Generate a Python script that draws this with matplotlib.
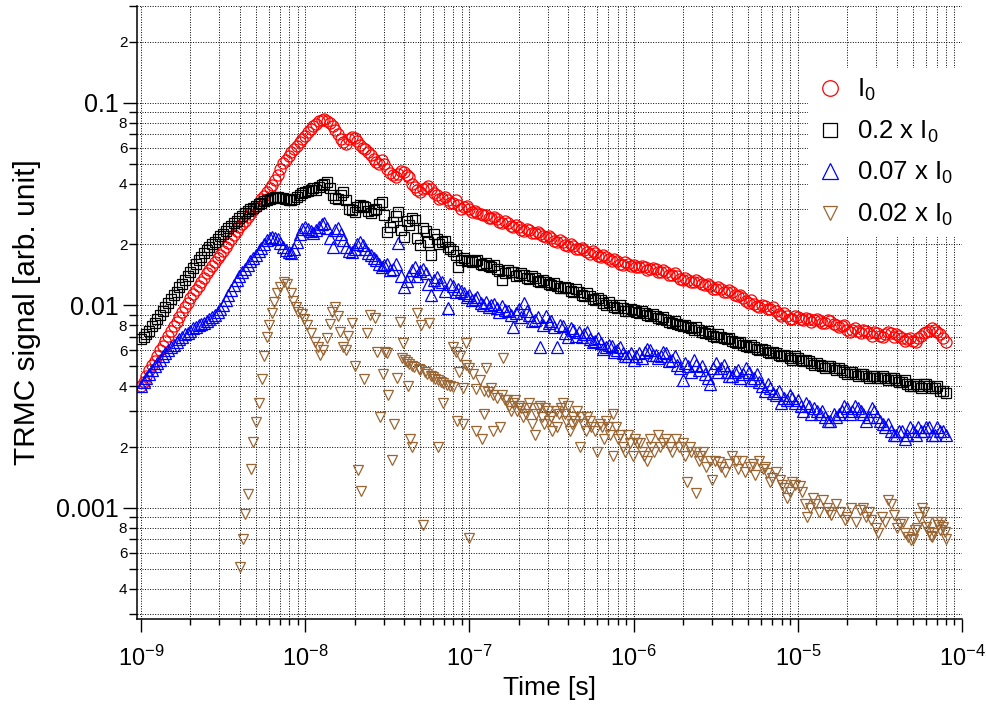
"""
TRMC transients at four excitation intensities (log-log, Igor-like look).
"""

import matplotlib
matplotlib.use("Agg")
import matplotlib.pyplot as plt
from matplotlib.ticker import FixedLocator, FuncFormatter, LogFormatterSciNotation, NullFormatter

# ============================ DATA ============================
# time base for I0, 0.2 I0 and 0.07 I0 traces, s
time_s = [
    1.00e-9, 1.08e-9, 1.17e-9, 1.26e-9, 1.36e-9, 1.47e-9, 1.58e-9, 1.71e-9, 1.85e-9, 2.00e-9,
    2.15e-9, 2.32e-9, 2.51e-9, 2.71e-9, 2.93e-9, 3.16e-9, 3.41e-9, 3.69e-9, 3.98e-9, 4.30e-9,
    4.64e-9, 5.01e-9, 5.41e-9, 5.84e-9, 6.31e-9, 6.81e-9, 7.36e-9, 7.94e-9, 8.58e-9, 9.26e-9,
    1.00e-8, 1.08e-8, 1.17e-8, 1.26e-8, 1.36e-8, 1.47e-8, 1.58e-8, 1.71e-8, 1.85e-8, 2.00e-8,
    2.15e-8, 2.32e-8, 2.51e-8, 2.71e-8, 2.93e-8, 3.16e-8, 3.41e-8, 3.69e-8, 3.98e-8, 4.30e-8,
    4.64e-8, 5.01e-8, 5.41e-8, 5.84e-8, 6.31e-8, 6.81e-8, 7.36e-8, 7.94e-8, 8.58e-8, 9.26e-8,
    1.00e-7, 1.08e-7, 1.17e-7, 1.26e-7, 1.36e-7, 1.47e-7, 1.58e-7, 1.71e-7, 1.85e-7, 2.00e-7,
    2.15e-7, 2.32e-7, 2.51e-7, 2.71e-7, 2.93e-7, 3.16e-7, 3.41e-7, 3.69e-7, 3.98e-7, 4.30e-7,
    4.64e-7, 5.01e-7, 5.41e-7, 5.84e-7, 6.31e-7, 6.81e-7, 7.36e-7, 7.94e-7, 8.58e-7, 9.26e-7,
    1.00e-6, 1.08e-6, 1.17e-6, 1.26e-6, 1.36e-6, 1.47e-6, 1.58e-6, 1.71e-6, 1.85e-6, 2.00e-6,
    2.15e-6, 2.32e-6, 2.51e-6, 2.71e-6, 2.93e-6, 3.16e-6, 3.41e-6, 3.69e-6, 3.98e-6, 4.30e-6,
    4.64e-6, 5.01e-6, 5.41e-6, 5.84e-6, 6.31e-6, 6.81e-6, 7.36e-6, 7.94e-6, 8.58e-6, 9.26e-6,
    1.00e-5, 1.08e-5, 1.17e-5, 1.26e-5, 1.36e-5, 1.47e-5, 1.58e-5, 1.71e-5, 1.85e-5, 2.00e-5,
    2.15e-5, 2.32e-5, 2.51e-5, 2.71e-5, 2.93e-5, 3.16e-5, 3.41e-5, 3.69e-5, 3.98e-5, 4.30e-5,
    4.64e-5, 5.01e-5, 5.41e-5, 5.84e-5, 6.31e-5, 6.81e-5, 7.36e-5, 7.94e-5,
]

# interleaved samples between the ones above
time_mid = [
    1.04e-9, 1.12e-9, 1.21e-9, 1.31e-9, 1.41e-9, 1.52e-9, 1.65e-9, 1.78e-9, 1.92e-9, 2.07e-9,
    2.24e-9, 2.41e-9, 2.61e-9, 2.82e-9, 3.04e-9, 3.28e-9, 3.55e-9, 3.83e-9, 4.14e-9, 4.47e-9,
    4.82e-9, 5.21e-9, 5.62e-9, 6.07e-9, 6.55e-9, 7.07e-9, 7.64e-9, 8.25e-9, 8.91e-9, 9.62e-9,
    1.04e-8, 1.12e-8, 1.21e-8, 1.31e-8, 1.41e-8, 1.52e-8, 1.65e-8, 1.78e-8, 1.92e-8, 2.07e-8,
    2.24e-8, 2.41e-8, 2.61e-8, 2.82e-8, 3.04e-8, 3.28e-8, 3.55e-8, 3.83e-8, 4.14e-8, 4.47e-8,
    4.82e-8, 5.21e-8, 5.62e-8, 6.07e-8, 6.55e-8, 7.07e-8, 7.64e-8, 8.25e-8, 8.91e-8, 9.62e-8,
    1.04e-7, 1.12e-7, 1.21e-7, 1.31e-7, 1.41e-7, 1.52e-7, 1.65e-7, 1.78e-7, 1.92e-7, 2.07e-7,
    2.24e-7, 2.41e-7, 2.61e-7, 2.82e-7, 3.04e-7, 3.28e-7, 3.55e-7, 3.83e-7, 4.14e-7, 4.47e-7,
    4.82e-7, 5.21e-7, 5.62e-7, 6.07e-7, 6.55e-7, 7.07e-7, 7.64e-7, 8.25e-7, 8.91e-7, 9.62e-7,
    1.04e-6, 1.12e-6, 1.21e-6, 1.31e-6, 1.41e-6, 1.52e-6, 1.65e-6, 1.78e-6, 1.92e-6, 2.07e-6,
    2.24e-6, 2.41e-6, 2.61e-6, 2.82e-6, 3.04e-6, 3.28e-6, 3.55e-6, 3.83e-6, 4.14e-6, 4.47e-6,
    4.82e-6, 5.21e-6, 5.62e-6, 6.07e-6, 6.55e-6, 7.07e-6, 7.64e-6, 8.25e-6, 8.91e-6, 9.62e-6,
    1.04e-5, 1.12e-5, 1.21e-5, 1.31e-5, 1.41e-5, 1.52e-5, 1.65e-5, 1.78e-5, 1.92e-5, 2.07e-5,
    2.24e-5, 2.41e-5, 2.61e-5, 2.82e-5, 3.04e-5, 3.28e-5, 3.55e-5, 3.83e-5, 4.14e-5, 4.47e-5,
    4.82e-5, 5.21e-5, 5.62e-5, 6.07e-5, 6.55e-5, 7.07e-5, 7.64e-5,
]

sig_i0 = [
    0.0040, 0.0045, 0.0051, 0.0056, 0.0063, 0.0071, 0.0079, 0.0088, 0.0098, 0.0109,
    0.0119, 0.0131, 0.0144, 0.0157, 0.0171, 0.0186, 0.0203, 0.0222, 0.0243, 0.0262,
    0.0284, 0.0308, 0.0334, 0.0362, 0.0395, 0.0440, 0.0505, 0.0548, 0.0590, 0.0640,
    0.0690, 0.0740, 0.0790, 0.0824, 0.0810, 0.0770, 0.0700, 0.0640, 0.0665, 0.0670,
    0.0620, 0.0590, 0.0555, 0.0510, 0.0525, 0.0470, 0.0440, 0.0445, 0.0455, 0.0430,
    0.0385, 0.0365, 0.0380, 0.0375, 0.0350, 0.0340, 0.0330, 0.0322, 0.0312, 0.0305,
    0.0298, 0.0294, 0.0283, 0.0280, 0.0270, 0.0266, 0.0256, 0.0254, 0.0245, 0.0243,
    0.0234, 0.0235, 0.0227, 0.0226, 0.0217, 0.0215, 0.0205, 0.0205, 0.0197, 0.0197,
    0.0189, 0.0188, 0.0180, 0.0181, 0.0174, 0.0174, 0.0166, 0.0166, 0.0159, 0.0160,
    0.0158, 0.0155, 0.0155, 0.0151, 0.0151, 0.0147, 0.0146, 0.0141, 0.0139, 0.0134,
    0.0134, 0.0130, 0.0130, 0.0126, 0.0125, 0.0120, 0.0120, 0.0117, 0.0116, 0.0111,
    0.0109, 0.0103, 0.0102, 0.0098, 0.0099, 0.0096, 0.0094, 0.0089, 0.0089, 0.0086,
    0.0088, 0.0085, 0.0086, 0.0085, 0.0084, 0.0082, 0.0084, 0.0080, 0.0079, 0.0076,
    0.0076, 0.0075, 0.0076, 0.0073, 0.0074, 0.0071, 0.0072, 0.0073, 0.0072, 0.0069,
    0.0068, 0.0067, 0.0069, 0.0073, 0.0075, 0.0076, 0.0072, 0.0066,
]
sig_i0_mid = [
    0.0042, 0.0048, 0.0053, 0.0060, 0.0067, 0.0075, 0.0083, 0.0093, 0.0103, 0.0114,
    0.0125, 0.0137, 0.0150, 0.0164, 0.0178, 0.0194, 0.0212, 0.0232, 0.0252, 0.0273,
    0.0296, 0.0321, 0.0348, 0.0378, 0.0418, 0.0470, 0.0525, 0.0570, 0.0615, 0.0665,
    0.0715, 0.0765, 0.0810, 0.0830, 0.0795, 0.0735, 0.0665, 0.0630, 0.0680, 0.0645,
    0.0600, 0.0570, 0.0530, 0.0500, 0.0500, 0.0450, 0.0430, 0.0460, 0.0440, 0.0400,
    0.0370, 0.0375, 0.0390, 0.0360, 0.0335, 0.0345, 0.0320, 0.0330, 0.0300, 0.0310,
    0.0290, 0.0285, 0.0281, 0.0271, 0.0272, 0.0258, 0.0260, 0.0247, 0.0249, 0.0236,
    0.0238, 0.0228, 0.0230, 0.0219, 0.0221, 0.0209, 0.0210, 0.0199, 0.0202, 0.0191,
    0.0193, 0.0183, 0.0185, 0.0176, 0.0178, 0.0169, 0.0170, 0.0161, 0.0163, 0.0157,
    0.0154, 0.0157, 0.0150, 0.0153, 0.0146, 0.0149, 0.0142, 0.0144, 0.0135, 0.0137,
    0.0131, 0.0133, 0.0127, 0.0128, 0.0121, 0.0123, 0.0116, 0.0119, 0.0112, 0.0113,
    0.0105, 0.0106, 0.0099, 0.0101, 0.0096, 0.0098, 0.0091, 0.0092, 0.0086, 0.0089,
    0.0086, 0.0087, 0.0083, 0.0086, 0.0082, 0.0085, 0.0081, 0.0078, 0.0080, 0.0074,
    0.0077, 0.0073, 0.0075, 0.0071, 0.0073, 0.0070, 0.0074, 0.0070, 0.0071, 0.0067,
    0.0069, 0.0066, 0.0071, 0.0074, 0.0077, 0.0074, 0.0069,
]

sig_02 = [
    0.0068, 0.0072, 0.0079, 0.0086, 0.0094, 0.0103, 0.0112, 0.0123, 0.0134, 0.0146,
    0.0160, 0.0174, 0.0188, 0.0200, 0.0213, 0.0225, 0.0240, 0.0255, 0.0270, 0.0285,
    0.0298, 0.0310, 0.0322, 0.0333, 0.0341, 0.0343, 0.0338, 0.0333, 0.0334, 0.0350,
    0.0365, 0.0370, 0.0372, 0.0395, 0.0405, 0.0350, 0.0335, 0.0365, 0.0300, 0.0288,
    0.0315, 0.0305, 0.0286, 0.0300, 0.0325, 0.0231, 0.0258, 0.0290, 0.0218, 0.0250,
    0.0265, 0.0199, 0.0232, 0.0177, 0.0212, 0.0205, 0.0195, 0.0185, 0.0155, 0.0172,
    0.0168, 0.0165, 0.0160, 0.0162, 0.0155, 0.0152, 0.0134, 0.0150, 0.0146, 0.0141,
    0.0141, 0.0135, 0.0136, 0.0131, 0.0131, 0.0126, 0.0125, 0.0122, 0.0122, 0.0117,
    0.0116, 0.0111, 0.0111, 0.0106, 0.0106, 0.0101, 0.0101, 0.0097, 0.0097, 0.0094,
    0.0095, 0.0092, 0.0092, 0.0089, 0.0089, 0.0086, 0.0085, 0.0082, 0.0081, 0.0079,
    0.0078, 0.0076, 0.0076, 0.0073, 0.0072, 0.0070, 0.0070, 0.0068, 0.0067, 0.0065,
    0.0064, 0.0062, 0.0062, 0.0060, 0.0060, 0.0058, 0.0058, 0.0056, 0.0056, 0.0054,
    0.0055, 0.0053, 0.0053, 0.0051, 0.0051, 0.0049, 0.0050, 0.0048, 0.0048, 0.0046,
    0.0047, 0.0045, 0.0046, 0.0044, 0.0045, 0.0044, 0.0044, 0.0044, 0.0043, 0.0042,
    0.0041, 0.0040, 0.0040, 0.0041, 0.0040, 0.0039, 0.0038, 0.0037,
]
sig_02_mid = [
    0.0070, 0.0075, 0.0082, 0.0090, 0.0098, 0.0107, 0.0117, 0.0128, 0.0140, 0.0153,
    0.0167, 0.0181, 0.0194, 0.0206, 0.0219, 0.0232, 0.0247, 0.0262, 0.0277, 0.0291,
    0.0304, 0.0316, 0.0328, 0.0337, 0.0342, 0.0341, 0.0335, 0.0330, 0.0342, 0.0358,
    0.0368, 0.0378, 0.0385, 0.0400, 0.0380, 0.0340, 0.0350, 0.0330, 0.0295, 0.0305,
    0.0310, 0.0292, 0.0295, 0.0318, 0.0280, 0.0245, 0.0275, 0.0235, 0.0260, 0.0270,
    0.0215, 0.0240, 0.0205, 0.0225, 0.0200, 0.0208, 0.0190, 0.0178, 0.0168, 0.0165,
    0.0163, 0.0167, 0.0158, 0.0157, 0.0159, 0.0148, 0.0145, 0.0147, 0.0140, 0.0144,
    0.0137, 0.0139, 0.0132, 0.0134, 0.0127, 0.0129, 0.0122, 0.0124, 0.0118, 0.0120,
    0.0113, 0.0115, 0.0108, 0.0109, 0.0103, 0.0104, 0.0098, 0.0100, 0.0094, 0.0096,
    0.0093, 0.0094, 0.0090, 0.0091, 0.0087, 0.0088, 0.0083, 0.0084, 0.0080, 0.0080,
    0.0077, 0.0078, 0.0074, 0.0075, 0.0071, 0.0072, 0.0069, 0.0069, 0.0066, 0.0066,
    0.0063, 0.0064, 0.0061, 0.0061, 0.0059, 0.0059, 0.0057, 0.0057, 0.0055, 0.0056,
    0.0054, 0.0054, 0.0052, 0.0052, 0.0050, 0.0050, 0.0049, 0.0049, 0.0047, 0.0047,
    0.0046, 0.0046, 0.0045, 0.0045, 0.0044, 0.0045, 0.0043, 0.0044, 0.0042, 0.0043,
    0.0040, 0.0041, 0.0039, 0.0041, 0.0039, 0.0040, 0.0038,
]

sig_007 = [
    0.0040, 0.0044, 0.0048, 0.0052, 0.0056, 0.0060, 0.0064, 0.0068, 0.0072, 0.0075,
    0.0078, 0.0081, 0.0084, 0.0088, 0.0093, 0.0100, 0.0113, 0.0126, 0.0140, 0.0152,
    0.0165, 0.0178, 0.0193, 0.0210, 0.0218, 0.0212, 0.0195, 0.0183, 0.0190, 0.0225,
    0.0245, 0.0232, 0.0236, 0.0252, 0.0240, 0.0194, 0.0241, 0.0210, 0.0186, 0.0190,
    0.0206, 0.0190, 0.0177, 0.0168, 0.0155, 0.0160, 0.0152, 0.0204, 0.0123, 0.0140,
    0.0155, 0.0148, 0.0145, 0.0112, 0.0138, 0.0131, 0.0097, 0.0125, 0.0120, 0.0115,
    0.0112, 0.0108, 0.0103, 0.0104, 0.0100, 0.0097, 0.0099, 0.0094, 0.0078, 0.0096,
    0.0103, 0.0090, 0.0085, 0.0062, 0.0089, 0.0084, 0.0062, 0.0079, 0.0070, 0.0076,
    0.0074, 0.0072, 0.0068, 0.0067, 0.0065, 0.0062, 0.0063, 0.0060, 0.0058, 0.0056,
    0.0054, 0.0058, 0.0059, 0.0060, 0.0057, 0.0056, 0.0058, 0.0054, 0.0051, 0.0043,
    0.0050, 0.0054, 0.0048, 0.0046, 0.0041, 0.0052, 0.0049, 0.0047, 0.0045, 0.0048,
    0.0046, 0.0047, 0.0044, 0.0042, 0.0038, 0.0039, 0.0036, 0.0033, 0.0034, 0.0035,
    0.0034, 0.0030, 0.0032, 0.0031, 0.0029, 0.0028, 0.0027, 0.0028, 0.0030, 0.0031,
    0.0030, 0.0031, 0.0029, 0.0028, 0.0030, 0.0027, 0.0025, 0.0024, 0.0023, 0.0024,
    0.0023, 0.0024, 0.0025, 0.0024, 0.0025, 0.0023, 0.0024, 0.0023,
]
sig_007_mid = [
    0.0042, 0.0046, 0.0050, 0.0054, 0.0058, 0.0062, 0.0066, 0.0070, 0.0073, 0.0077,
    0.0080, 0.0082, 0.0086, 0.0090, 0.0096, 0.0106, 0.0119, 0.0133, 0.0146, 0.0158,
    0.0171, 0.0185, 0.0201, 0.0215, 0.0216, 0.0204, 0.0188, 0.0182, 0.0205, 0.0238,
    0.0238, 0.0228, 0.0245, 0.0255, 0.0215, 0.0236, 0.0225, 0.0195, 0.0184, 0.0200,
    0.0198, 0.0182, 0.0172, 0.0160, 0.0158, 0.0150, 0.0160, 0.0140, 0.0132, 0.0150,
    0.0140, 0.0152, 0.0128, 0.0133, 0.0127, 0.0118, 0.0128, 0.0116, 0.0118, 0.0110,
    0.0106, 0.0110, 0.0100, 0.0098, 0.0102, 0.0093, 0.0095, 0.0090, 0.0092, 0.0088,
    0.0094, 0.0084, 0.0088, 0.0080, 0.0082, 0.0078, 0.0080, 0.0073, 0.0077, 0.0071,
    0.0070, 0.0074, 0.0066, 0.0069, 0.0061, 0.0064, 0.0059, 0.0062, 0.0056, 0.0058,
    0.0056, 0.0055, 0.0061, 0.0057, 0.0055, 0.0059, 0.0053, 0.0056, 0.0049, 0.0052,
    0.0047, 0.0051, 0.0050, 0.0044, 0.0049, 0.0047, 0.0051, 0.0045, 0.0047, 0.0044,
    0.0049, 0.0043, 0.0046, 0.0040, 0.0041, 0.0037, 0.0038, 0.0035, 0.0036, 0.0033,
    0.0032, 0.0033, 0.0029, 0.0030, 0.0030, 0.0027, 0.0029, 0.0029, 0.0032, 0.0029,
    0.0032, 0.0030, 0.0027, 0.0031, 0.0028, 0.0026, 0.0026, 0.0023, 0.0024, 0.0022,
    0.0025, 0.0023, 0.0024, 0.0025, 0.0023, 0.0025, 0.0024,
]

# 0.02 x I0 trace (own sampling; negative points are not shown on log axis)
time_002 = [
    4.00e-9, 4.18e-9, 4.30e-9, 4.48e-9, 4.67e-9, 4.80e-9, 5.00e-9, 5.20e-9, 5.45e-9, 5.60e-9,
    5.85e-9, 6.00e-9, 6.30e-9, 6.45e-9, 6.70e-9, 7.00e-9, 7.40e-9, 7.80e-9, 8.20e-9, 8.40e-9,
    8.80e-9, 9.00e-9, 9.50e-9, 9.90e-9, 1.03e-8, 1.09e-8, 1.14e-8, 1.19e-8, 1.23e-8, 1.28e-8,
    1.35e-8, 1.41e-8, 1.45e-8, 1.52e-8, 1.58e-8, 1.62e-8, 1.69e-8, 1.77e-8, 1.83e-8, 1.92e-8,
    2.00e-8, 2.10e-8, 2.20e-8, 2.27e-8, 2.37e-8, 2.47e-8, 2.65e-8, 2.73e-8, 2.85e-8, 2.97e-8,
    3.05e-8, 3.14e-8, 3.20e-8, 3.37e-8, 3.46e-8, 3.60e-8, 3.77e-8, 3.86e-8, 3.93e-8, 4.05e-8,
    4.16e-8, 4.20e-8, 4.30e-8, 4.34e-8, 4.45e-8, 4.50e-8, 4.60e-8, 4.78e-8, 4.90e-8, 5.00e-8,
    5.10e-8, 5.20e-8, 5.35e-8, 5.50e-8, 5.70e-8, 5.80e-8, 6.00e-8, 6.20e-8, 6.40e-8, 6.40e-8,
    6.70e-8, 6.90e-8, 6.90e-8, 7.30e-8, 7.60e-8, 7.90e-8, 8.00e-8, 8.30e-8, 8.40e-8, 8.60e-8,
    8.80e-8, 9.10e-8, 9.10e-8, 9.60e-8, 9.60e-8, 1.00e-7, 1.00e-7, 1.05e-7, 1.10e-7, 1.10e-7,
    1.16e-7, 1.19e-7, 1.22e-7, 1.22e-7, 1.27e-7, 1.30e-7, 1.35e-7, 1.40e-7, 1.40e-7, 1.47e-7,
    1.53e-7, 1.60e-7, 1.65e-7, 1.75e-7, 1.84e-7, 1.95e-7, 2.05e-7, 2.20e-7, 2.30e-7, 2.50e-7,
    2.60e-7, 2.75e-7, 2.90e-7, 3.05e-7, 3.20e-7, 3.35e-7, 3.50e-7, 3.70e-7, 3.90e-7, 4.10e-7,
    4.30e-7, 4.50e-7, 4.70e-7, 4.90e-7, 5.20e-7, 5.50e-7, 6.00e-7, 6.20e-7, 6.60e-7, 7.00e-7,
    7.50e-7, 7.50e-7, 8.00e-7, 8.60e-7, 9.20e-7, 9.90e-7, 1.05e-6, 1.12e-6, 1.20e-6, 1.28e-6,
    1.40e-6, 1.50e-6, 1.66e-6, 1.80e-6, 2.00e-6, 2.10e-6, 2.25e-6, 2.40e-6, 2.40e-6, 2.55e-6,
    2.75e-6, 3.00e-6, 3.15e-6, 3.30e-6, 3.60e-6, 4.00e-6, 4.30e-6, 4.60e-6, 5.10e-6, 5.50e-6,
    5.80e-6, 6.10e-6, 6.50e-6, 7.00e-6, 7.80e-6, 8.20e-6, 8.60e-6, 9.20e-6, 1.03e-5, 1.10e-5,
    1.13e-5, 1.24e-5, 1.35e-5, 1.50e-5, 1.60e-5, 1.70e-5, 1.80e-5, 1.95e-5, 2.10e-5, 2.40e-5,
    2.60e-5, 2.80e-5, 3.10e-5, 3.40e-5, 3.70e-5, 4.00e-5, 4.20e-5, 4.50e-5, 4.90e-5, 5.20e-5,
    5.50e-5, 5.70e-5, 6.00e-5, 6.30e-5, 6.60e-5, 7.00e-5, 7.30e-5, 7.70e-5, 8.00e-5,
]
sig_002 = [
    5.1e-4, 7.0e-4, 9.3e-4, 1.17e-3, 1.56e-3, 2.12e-3, 2.66e-3, 3.30e-3, 4.34e-3, 5.63e-3,
    6.98e-3, 8.0e-3, 9.2e-3, 1.04e-2, 1.15e-2, 1.23e-2, 1.31e-2, 1.28e-2, 1.15e-2, 1.05e-2,
    9.8e-3, 9.3e-3, 9.1e-3, 8.6e-3, 8.0e-3, 7.3e-3, 6.6e-3, 6.2e-3, 5.7e-3, 6.0e-3,
    6.9e-3, 8.1e-3, 9.3e-3, 9.8e-3, 8.9e-3, 7.4e-3, 6.2e-3, 6.0e-3, 7.1e-3, 8.2e-3,
    5.0e-3, 1.54e-3, 1.21e-3, 4.34e-3, 7.3e-3, 9.0e-3, 8.7e-3, 5.9e-3, 2.81e-3, 4.6e-3,
    5.9e-3, 5.8e-3, 3.6e-3, 1.73e-3, 2.6e-3, 4.4e-3, 8.3e-3, 5.5e-3, 6.5e-3, 5.35e-3,
    5.25e-3, 4.0e-3, 5.15e-3, 2.2e-3, 5.05e-3, 2.0e-3, 4.95e-3, 9.2e-3, 4.85e-3, 4.8e-3,
    8.0e-3, 8.2e-4, 4.7e-3, 4.6e-3, 8.2e-3, 4.5e-3, 4.45e-3, 4.35e-3, 2.0e-3, 4.3e-3,
    4.2e-3, 3.3e-3, 4.15e-3, 4.05e-3, 4.0e-3, 6.2e-3, 3.95e-3, 5.9e-3, 2.7e-3, 4.7e-3,
    5.6e-3, 2.6e-3, 3.9e-3, 6.5e-3, 5.1e-3, 7.1e-4, 4.9e-3, 4.6e-3, 2.4e-3, 3.85e-3,
    4.3e-3, 2.2e-3, 2.9e-3, 3.8e-3, 4.9e-3, 3.75e-3, 3.9e-3, 2.4e-3, 3.6e-3, 3.5e-3,
    2.5e-3, 5.5e-3, 3.4e-3, 3.2e-3, 3.3e-3, 3.0e-3, 3.1e-3, 2.9e-3, 3.3e-3, 2.3e-3,
    3.1e-3, 2.8e-3, 3.1e-3, 2.7e-3, 2.4e-3, 3.0e-3, 2.9e-3, 3.3e-3, 2.7e-3, 2.4e-3,
    2.8e-3, 3.0e-3, 2.0e-3, 2.6e-3, 2.8e-3, 2.5e-3, 1.9e-3, 2.6e-3, 2.2e-3, 2.5e-3,
    2.9e-3, 1.8e-3, 2.2e-3, 2.0e-3, 2.3e-3, 1.8e-3, 2.1e-3, 1.9e-3, 1.7e-3, 2.0e-3,
    2.3e-3, 2.1e-3, 2.0e-3, 2.2e-3, 2.1e-3, 1.34e-3, 1.9e-3, 1.19e-3, 1.9e-3, 1.8e-3,
    1.6e-3, 1.38e-3, 1.7e-3, 1.68e-3, 1.5e-3, 1.8e-3, 1.55e-3, 1.7e-3, 1.59e-3, 1.45e-3,
    1.7e-3, 1.55e-3, 1.49e-3, 1.4e-3, 1.38e-3, 1.25e-3, 1.12e-3, 1.35e-3, 1.28e-3, 1.05e-3,
    9.0e-4, 1.12e-3, 9.5e-4, 1.0e-3, 9.2e-4, 1.05e-3, 9.5e-4, 8.7e-4, 1.0e-3, 9.8e-4,
    9.0e-4, 8.7e-4, 7.5e-4, 8.5e-4, 1.05e-3, 8.0e-4, 8.3e-4, 7.5e-4, 6.95e-4, 7.8e-4,
    9.0e-4, 1.0e-3, 8.1e-4, 7.6e-4, 7.2e-4, 8.5e-4, 7.8e-4, 8.1e-4, 7.0e-4,
]

# extra 0.02 x I0 samples in the dense tail
time_002_mid = [
    1.58e-7, 1.70e-7, 1.80e-7, 1.90e-7, 2.00e-7, 2.12e-7, 2.25e-7, 2.40e-7, 2.55e-7, 2.70e-7,
    2.85e-7, 3.00e-7, 3.15e-7, 3.40e-7, 3.60e-7, 3.80e-7, 4.00e-7, 4.20e-7, 4.40e-7, 4.80e-7,
    5.10e-7, 5.40e-7, 5.80e-7, 6.40e-7, 6.80e-7, 7.20e-7, 7.80e-7, 8.30e-7, 8.90e-7, 9.50e-7,
    1.02e-6, 1.10e-6, 1.16e-6, 1.25e-6, 1.34e-6, 1.45e-6, 1.58e-6, 1.72e-6, 1.90e-6, 2.05e-6,
    2.20e-6, 2.50e-6, 2.65e-6, 2.90e-6, 3.40e-6, 3.80e-6, 4.20e-6, 4.80e-6, 5.30e-6, 6.30e-6,
    6.80e-6, 7.40e-6, 8.00e-6, 9.00e-6, 9.60e-6, 1.06e-5, 1.18e-5, 1.28e-5, 1.42e-5, 1.55e-5,
    2.00e-5, 2.25e-5, 2.50e-5, 2.70e-5, 3.00e-5, 3.25e-5, 3.55e-5, 3.85e-5, 4.35e-5, 4.70e-5,
    5.00e-5, 5.35e-5, 5.85e-5, 6.15e-5, 6.45e-5, 6.80e-5, 7.15e-5, 7.50e-5, 7.85e-5,
]
sig_002_mid = [
    3.6e-3, 3.4e-3, 3.0e-3, 3.4e-3, 3.2e-3, 2.8e-3, 3.1e-3, 2.6e-3, 2.9e-3, 3.2e-3,
    2.6e-3, 3.0e-3, 2.8e-3, 2.5e-3, 3.1e-3, 2.9e-3, 3.2e-3, 2.6e-3, 2.7e-3, 2.8e-3,
    2.4e-3, 2.7e-3, 2.4e-3, 2.5e-3, 2.7e-3, 2.3e-3, 2.5e-3, 2.3e-3, 1.9e-3, 2.1e-3,
    2.2e-3, 2.1e-3, 1.8e-3, 2.2e-3, 1.9e-3, 2.0e-3, 2.2e-3, 1.9e-3, 2.0e-3, 1.8e-3,
    2.0e-3, 1.7e-3, 1.9e-3, 1.7e-3, 1.6e-3, 1.65e-3, 1.7e-3, 1.5e-3, 1.65e-3, 1.6e-3,
    1.35e-3, 1.5e-3, 1.3e-3, 1.2e-3, 1.3e-3, 1.2e-3, 1.0e-3, 1.05e-3, 1.1e-3, 9.5e-4,
    9.0e-4, 8.5e-4, 1.0e-3, 9.5e-4, 8.0e-4, 9.0e-4, 1.1e-3, 9.2e-4, 8.5e-4, 7.2e-4,
    7.0e-4, 8.0e-4, 9.5e-4, 8.5e-4, 7.3e-4, 7.5e-4, 8.2e-4, 8.5e-4, 7.6e-4,
]

labels = ["I$_0$", "0.2 x I$_0$", "0.07 x I$_0$", "0.02 x I$_0$"]

# axis ticks (Igor: decades labelled, 2/4/6/8 labelled on the y axis)
x_major = [1e-9, 1e-8, 1e-7, 1e-6, 1e-5, 1e-4]
y_major = [1e-3, 1e-2, 1e-1]
y_major_text = ["0.001", "0.01", "0.1"]
# ==============================================================

plt.rcParams["font.family"] = ["Liberation Sans", "DejaVu Sans"]
plt.rcParams["mathtext.fontset"] = "custom"
plt.rcParams["mathtext.rm"] = "Liberation Sans"
plt.rcParams["mathtext.it"] = "Liberation Sans:italic"
plt.rcParams["mathtext.default"] = "regular"

BROWN = "#996633"
XMIN, XMAX = 10 ** -9.0243, 1e-4
YMIN, YMAX = 2.83e-4, 0.301

fig = plt.figure(figsize=(9.86, 7.06), dpi=100)
ax = fig.add_axes([137 / 986, 87 / 706, 825 / 986, 613 / 706])

mk = dict(linestyle="none", mfc="none", mew=0.9)
ax.plot(time_s + time_mid, sig_i0 + sig_i0_mid, marker="o", mec="red", ms=8,
        label=labels[0], **mk)
ax.plot(time_s + time_mid, sig_02 + sig_02_mid, marker="s", mec="black", ms=7,
        label=labels[1], **mk)
ax.plot(time_s + time_mid, sig_007 + sig_007_mid, marker="^", mec="blue", ms=8.5,
        label=labels[2], **mk)
ax.plot(time_002 + time_002_mid, sig_002 + sig_002_mid, marker="v", mec=BROWN, ms=7.5,
        label=labels[3], **mk)

ax.set_xscale("log")
ax.set_yscale("log")
ax.set_xlim(XMIN, XMAX)
ax.set_ylim(YMIN, YMAX)

# minor tick positions inside the visible range only
x_minor = [m * d for d in x_major[:-1] for m in range(2, 10)]
y_minor = [m * d for d in [1e-4] + y_major for m in range(2, 10)]
y_minor = [v for v in y_minor if YMIN <= v <= YMAX]

ax.xaxis.set_major_locator(FixedLocator(x_major))
ax.xaxis.set_minor_locator(FixedLocator(x_minor))
ax.xaxis.set_major_formatter(LogFormatterSciNotation())
ax.xaxis.set_minor_formatter(NullFormatter())

ax.yaxis.set_major_locator(FixedLocator(y_major))
ax.yaxis.set_minor_locator(FixedLocator(y_minor))
ax.yaxis.set_major_formatter(FuncFormatter(lambda v, pos: y_major_text[pos]))


def yminor(v, pos):
    exp = 10 ** int(f"{v:e}".split("e")[1])
    m = round(v / exp)
    return str(m) if m in (2, 4, 6, 8) else ""


ax.yaxis.set_minor_formatter(FuncFormatter(yminor))

ax.tick_params(which="both", direction="out", width=1.0, color="black")
ax.tick_params(axis="y", which="major", length=10, pad=3, labelsize=18)
ax.tick_params(axis="y", which="minor", length=5.5, pad=1.5, labelsize=11)
ax.tick_params(axis="x", which="major", length=9.5, pad=9.5, labelsize=17)
ax.tick_params(axis="x", which="minor", length=4.5)

for side in ("top", "right"):
    ax.spines[side].set_visible(False)
for side in ("left", "bottom"):
    ax.spines[side].set_linewidth(1.1)

ax.grid(True, which="both", color="black", linestyle=(0, (1, 1.6)), linewidth=0.7)
ax.set_axisbelow(True)

ax.set_xlabel("Time [s]", fontsize=19, labelpad=4)
ax.set_ylabel("TRMC signal [arb. unit]", fontsize=21.5, labelpad=11)

leg = ax.legend(loc="upper left", bbox_to_anchor=(808 / 986, 1 - 68 / 706),
                bbox_transform=fig.transFigure, fontsize=18.5, markerscale=1.4,
                frameon=True, fancybox=False, framealpha=1.0, edgecolor="none",
                facecolor="white", handlelength=1.0, handletextpad=0.55,
                labelspacing=0.6, borderpad=0.35, borderaxespad=0.0)

fig.savefig("out.png", dpi=100)
